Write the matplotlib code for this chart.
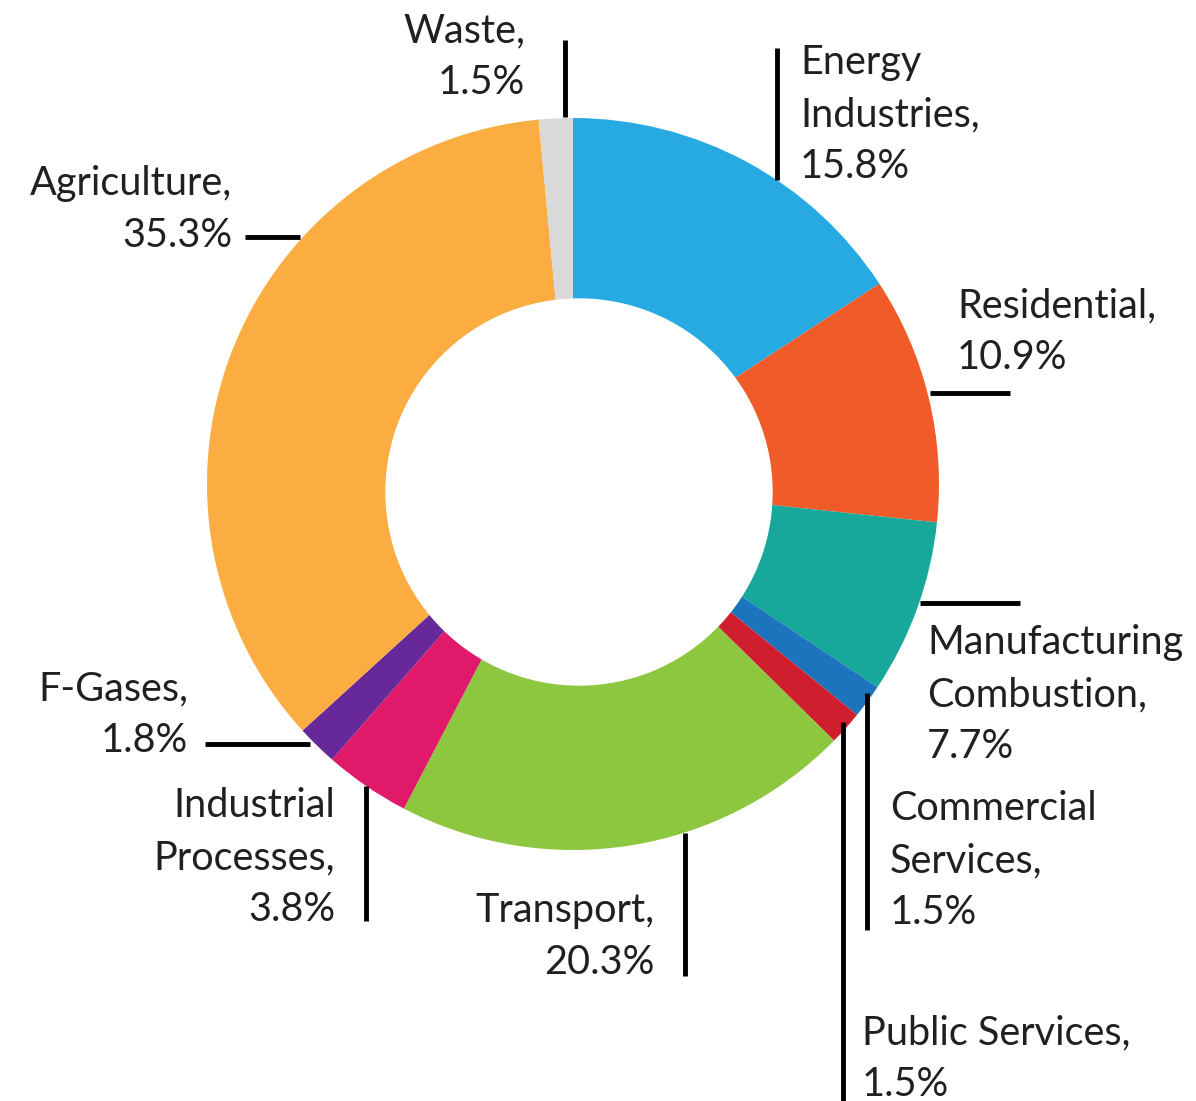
import numpy as np
import matplotlib.pyplot as plt
from matplotlib.patches import Circle

# Emisiones por sector (%)
sectors = ['Energy\nIndustries', 'Residential', 'Manufacturing\nCombustion',
           'Commercial\nServices', 'Public Services', 'Transport',
           'Industrial\nProcesses', 'F-Gases', 'Agriculture', 'Waste']
shares = [15.8, 10.9, 7.7, 1.5, 1.5, 20.3, 3.8, 1.8, 35.3, 1.5]
colors = ['#27AAE1', '#F15A29', '#17A89B', '#1C75BC', '#CF1F2E',
          '#8DC63F', '#E1196A', '#67299A', '#FBAD41', '#D9D9D9']

# Posicion de cada etiqueta (x, y, alineacion) y de su linea guia
label_pos = [(800, 44, 'left'), (957, 287, 'left'), (927, 624, 'left'),
             (890, 790, 'left'), (862, 1014, 'left'), (655, 892, 'right'),
             (335, 787, 'right'), (188, 670, 'right'), (232, 165, 'right'),
             (525, 12, 'right')]
leader = [((777, 777), (48, 180)), ((930, 1010), (393, 393)),
          ((920, 1020), (603, 603)), ((867, 867), (693, 930)),
          ((843, 843), (722, 1101)), ((685, 685), (833, 976)),
          ((366, 366), (786, 921)), ((205, 310), (744, 744)),
          ((245, 300), (237, 237)), ((565, 565), (40, 117))]

fig = plt.figure(figsize=(11.96, 11.01), dpi=100)
ax = fig.add_axes([0, 0, 1, 1])

# eje y invertido: startangle=-90 y sentido antihorario = arriba y horario en pantalla
ax.pie(shares, colors=colors, startangle=-90, counterclock=True,
       center=(573, 484), radius=366, wedgeprops=dict(linewidth=0))
ax.add_patch(Circle((579, 492), 193, color='white', zorder=5))

for name, val, (x, y, ha), (lx, ly) in zip(sectors, shares, label_pos, leader):
    ax.text(x, y, f'{name},\n{val}%', ha=ha, va='top', fontsize=28.5,
            family='Lato', color='#231F20', linespacing=1.5, zorder=6)
    ax.plot(lx, ly, color='black', lw=3.5, solid_capstyle='butt', zorder=6)

ax.set_xlim(0, 1196)
ax.set_ylim(1101, 0)
ax.set_aspect('auto')
ax.axis('off')
fig.savefig('out.png', dpi=100)
